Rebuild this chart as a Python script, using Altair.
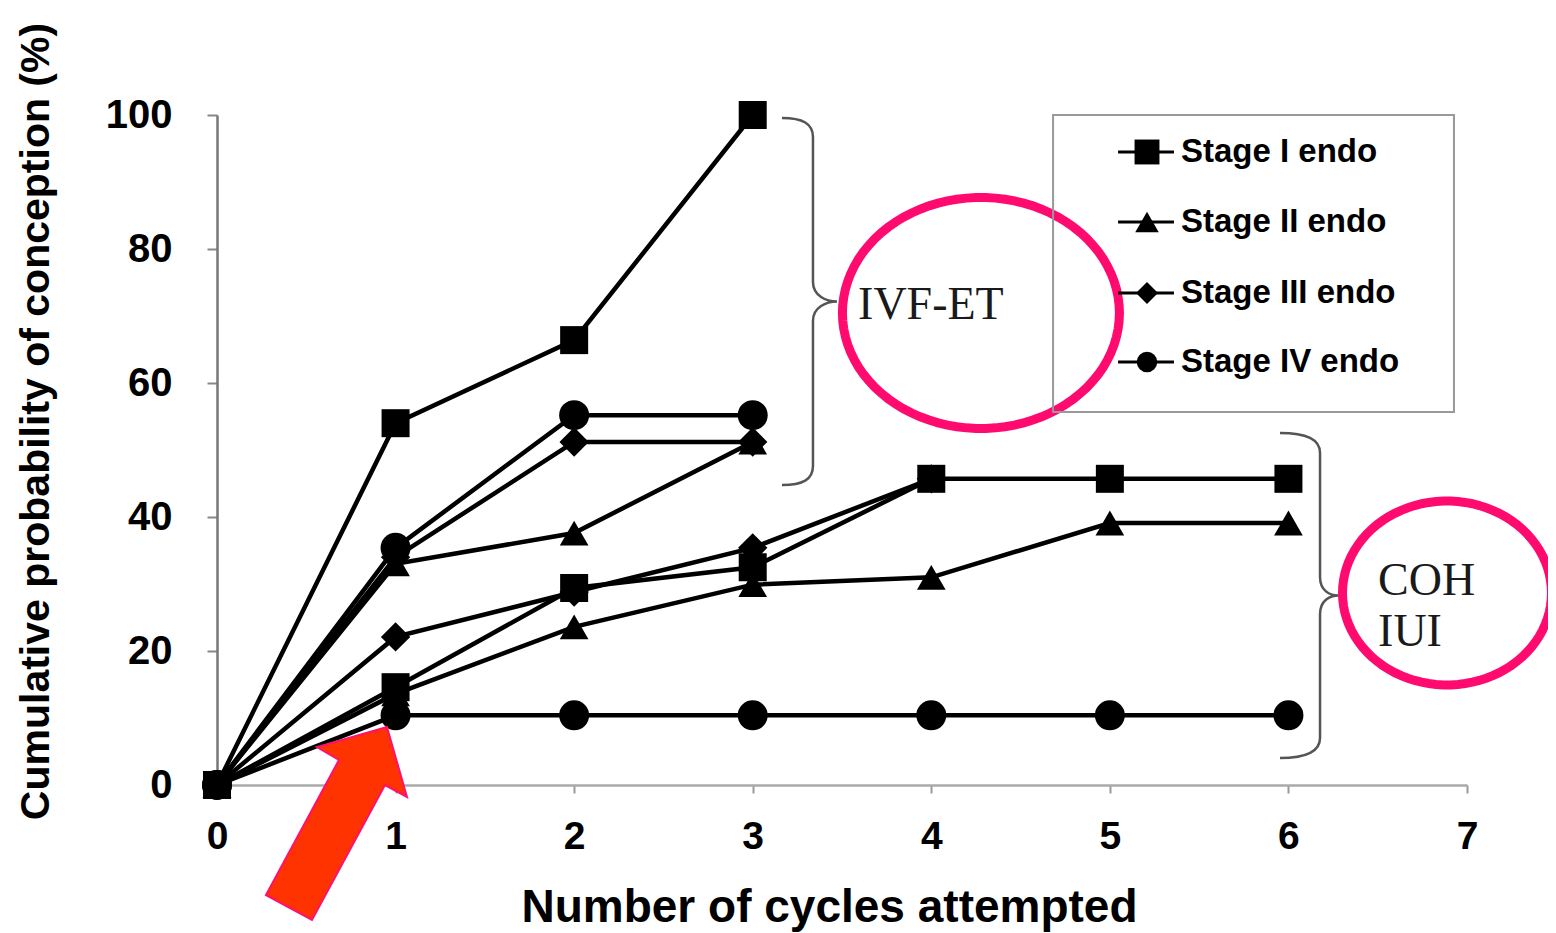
import altair as alt
import pandas as pd
import numpy as np

# ---------------- data ----------------
stages = ["Stage I endo", "Stage II endo", "Stage III endo", "Stage IV endo"]
shapes = ["square", "triangle-up", "diamond", "circle"]

ivf_cycles = [0, 1, 2, 3]
ivf_stage1 = [0, 54, 66.4, 100]
ivf_stage2 = [0, 33, 37.6, 51.2]
ivf_stage3 = [0, 34, 51.2, 51.2]
ivf_stage4 = [0, 35.4, 55.2, 55.2]

coh_cycles = [0, 1, 2, 3, 4, 5, 6]
coh_stage1 = [0, 14.6, 29.4, 32.5, 45.7, 45.7, 45.7]
coh_stage2 = [0, 13.6, 23.6, 29.9, 31, 39.1, 39.1]
coh_stage3_cycles = [0, 1, 2, 3, 4]
coh_stage3 = [0, 22.1, 28.8, 35.4, 45.7]
coh_stage4 = [0, 10.4, 10.4, 10.4, 10.4, 10.4, 10.4]

x_ticks = [0, 1, 2, 3, 4, 5, 6, 7]
y_ticks = [0, 20, 40, 60, 80, 100]

series = [
    ("IVF-ET", "Stage IV endo", ivf_cycles, ivf_stage4),
    ("IVF-ET", "Stage III endo", ivf_cycles, ivf_stage3),
    ("IVF-ET", "Stage II endo", ivf_cycles, ivf_stage2),
    ("IVF-ET", "Stage I endo", ivf_cycles, ivf_stage1),
    ("COH-IUI", "Stage IV endo", coh_cycles, coh_stage4),
    ("COH-IUI", "Stage III endo", coh_stage3_cycles, coh_stage3),
    ("COH-IUI", "Stage II endo", coh_cycles, coh_stage2),
    ("COH-IUI", "Stage I endo", coh_cycles, coh_stage1),
]
rows = []
for grp, stg, cyc, vals in series:
    for c, v in zip(cyc, vals):
        rows.append({"group": grp, "stage": stg, "series": grp + " " + stg,
                     "cycle": c, "value": v, "rank": stages[::-1].index(stg)})
df = pd.DataFrame(rows)
df_points = df.sort_values("rank", kind="stable").reset_index(drop=True)

# ---------------- scales / axes ----------------
XS = alt.Scale(domain=[0, 7], nice=False, zero=False)
YS = alt.Scale(domain=[0, 100], nice=False, zero=False)
FONT = "Liberation Sans"
SERIF = "Liberation Serif"
PINK = "#FF0A6E"

X_AXIS = alt.Axis(values=x_ticks, format="d", grid=False, labelFlush=False,
                  title="Number of cycles attempted",
                  titleFont=FONT, titleFontSize=46, titleFontWeight="bold",
                  titleColor="black", titleX=612, titleY=136,
                  titleAlign="center", titleBaseline="alphabetic",
                  labelFont=FONT, labelFontSize=39, labelFontWeight="bold",
                  labelColor="black", labelPadding=24,
                  tickSize=8, tickColor="#999", tickWidth=2,
                  domainColor="#aaa", domainWidth=2.5)
Y_AXIS = alt.Axis(values=y_ticks, format="d", grid=False, labelFlush=False,
                  title="Cumulative probability of conception (%)",
                  titleFont=FONT, titleFontSize=41, titleFontWeight="bold",
                  titleColor="black", titleX=-181, titleY=306,
                  titleAlign="center", titleBaseline="middle", titleAngle=-90,
                  labelFont=FONT, labelFontSize=40, labelFontWeight="bold",
                  labelColor="black", labelPadding=35,
                  tickSize=10, tickColor="#888", tickWidth=2,
                  domainColor="#777", domainWidth=2.5)


def ax(field):
    return alt.X(field, type="quantitative", scale=XS, axis=X_AXIS)


def ay(field):
    return alt.Y(field, type="quantitative", scale=YS, axis=Y_AXIS)


lines = alt.Chart(df).mark_line(color="black", strokeWidth=4.5).encode(
    x=ax("cycle"), y=ay("value"), detail="series:N", order="cycle:Q"
)

points = alt.Chart(df_points).mark_point(filled=True, color="black", opacity=1).encode(
    x=ax("cycle"), y=ay("value"),
    shape=alt.Shape("stage:N", scale=alt.Scale(domain=stages, range=shapes), legend=None),
    size=alt.Size("stage:N", scale=alt.Scale(domain=stages, range=[784, 900, 700, 600]), legend=None),
)

# ---------------- annotations ----------------
def ellipse_path(ratio, n=90):
    t = np.linspace(0, 2 * np.pi, n, endpoint=False)
    pts = [f"{np.cos(a):.4f} {ratio * np.sin(a):.4f}" for a in t]
    return "M " + " L ".join(pts) + " Z"


brace_ivf = ("M -0.153 -1 C -0.04 -1 0.016 -0.97 0.016 -0.896 L 0.016 -0.106 "
             "C 0.016 -0.03 0.09 0 0.147 0 C 0.09 0 0.016 0.03 0.016 0.106 "
             "L 0.016 0.896 C 0.016 0.97 -0.04 1 -0.153 1")
brace_coh = ("M -0.185 -1 C -0.02 -1 0.0615 -0.96 0.0615 -0.877 L 0.0615 -0.114 "
             "C 0.0615 -0.03 0.12 0 0.178 0 C 0.12 0 0.0615 0.03 0.0615 0.114 "
             "L 0.0615 0.877 C 0.0615 0.96 -0.02 1 -0.185 1")
arrow = ("M 0.505 -0.965 L 0.705 -0.265 L 0.485 -0.385 L -0.245 0.965 "
         "L -0.705 0.715 L 0.025 -0.635 L -0.195 -0.765 Z")


def one(cx, cy):
    return pd.DataFrame({"cx": [cx], "cy": [cy]})


b1 = alt.Chart(one(3.321, 72.16)).mark_point(
    shape=brace_ivf, size=134689, filled=False, color="#555", strokeWidth=2.5, opacity=1
).encode(x=ax("cx"), y=ay("cy"))
b2 = alt.Chart(one(6.121, 28.28)).mark_point(
    shape=brace_coh, size=105625, filled=False, color="#555", strokeWidth=2.5, opacity=1
).encode(x=ax("cx"), y=ay("cy"))

e1 = alt.Chart(one(4.278, 70.45)).mark_point(
    shape=ellipse_path(0.834), size=76729, filled=False, color=PINK, strokeWidth=9, opacity=1
).encode(x=ax("cx"), y=ay("cy"))
e2 = alt.Chart(one(6.888, 28.66)).mark_point(
    shape=ellipse_path(0.880), size=43681, filled=False, color=PINK, strokeWidth=9, opacity=1
).encode(x=ax("cx"), y=ay("cy"))

arr = alt.Chart(one(0.669, -5.746)).mark_point(
    shape=arrow, size=40000, filled=True, color="#FF3300", stroke="#FF1070",
    strokeWidth=2, opacity=1
).encode(x=ax("cx"), y=ay("cy"))

ann_text = pd.DataFrame({"cx": [3.59, 6.502, 6.502], "cy": [71.64, 30.45, 22.84],
                         "label": ["IVF-ET", "COH", "IUI"]})
t_ann = alt.Chart(ann_text).mark_text(
    font=SERIF, fontSize=46, align="left", baseline="middle", color="#1a1a1a"
).encode(x=ax("cx"), y=ay("cy"), text="label:N")

# ---------------- manual legend ----------------
leg_y = [94.48, 84.03, 73.43, 63.13]
leg_df = pd.DataFrame({"stage": stages, "ly": leg_y,
                       "lx1": 5.046, "lx2": 5.359, "mx": 5.208, "tx": 5.398})
box = alt.Chart(pd.DataFrame({"x1": [4.682], "x2": [6.927], "y1": [100], "y2": [55.67]})).mark_rect(
    fillOpacity=0, stroke="#999", strokeWidth=2
).encode(x=ax("x1"), x2="x2:Q", y=ay("y1"), y2="y2:Q")
leg_rules = alt.Chart(leg_df).mark_rule(color="black", strokeWidth=3).encode(
    x=ax("lx1"), x2="lx2:Q", y=ay("ly"))
leg_pts = alt.Chart(leg_df).mark_point(filled=True, color="black", opacity=1).encode(
    x=ax("mx"), y=ay("ly"),
    shape=alt.Shape("stage:N", scale=alt.Scale(domain=stages, range=shapes), legend=None),
    size=alt.Size("stage:N", scale=alt.Scale(domain=stages, range=[620, 420, 300, 380]), legend=None),
)
leg_txt = alt.Chart(leg_df).mark_text(
    font=FONT, fontSize=33, fontWeight="bold", align="left", baseline="middle", color="black"
).encode(x=ax("tx"), y=ay("ly"), text="stage:N")

chart = alt.layer(
    lines, points, b1, b2, t_ann, e1, e2, arr, box, leg_rules, leg_pts, leg_txt
).resolve_scale(size="independent").properties(
    width=1250, height=670,
    autosize=alt.AutoSizeParams(type="none"),
    padding={"left": 209, "top": 107, "right": 81, "bottom": 148},
    background="white",
).configure_view(stroke=None)

chart.save("out.html", embed_options={"renderer": "svg", "actions": False})
